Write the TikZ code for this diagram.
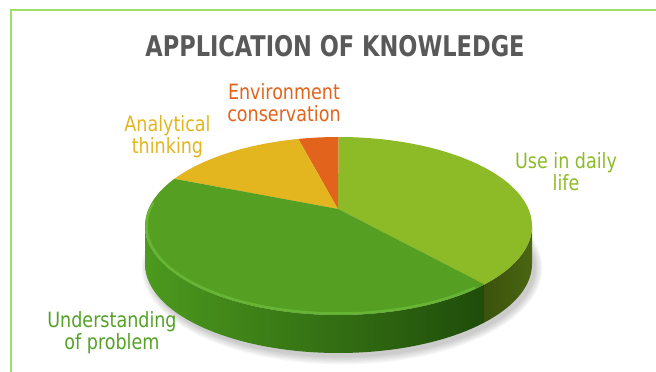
\documentclass[tikz,border=0pt]{standalone}
\usepackage{fontspec}
\setmainfont{DejaVu Sans Condensed}
\usetikzlibrary{calc}
\definecolor{cLight}{HTML}{8DBB27}
\definecolor{cDark}{HTML}{559F22}
\definecolor{cYel}{HTML}{E3B51F}
\definecolor{cOra}{HTML}{E2631B}
\definecolor{cTitle}{HTML}{595959}
\definecolor{cFrame}{HTML}{9DDF6B}
\definecolor{cLabDark}{HTML}{55A127}
\definecolor{sideL}{HTML}{4C9A1E}
\definecolor{sideR}{HTML}{1F4C0A}
\definecolor{oliveL}{HTML}{4A6612}
\definecolor{oliveR}{HTML}{3B520C}
\definecolor{rimHi}{HTML}{7ED04A}
\begin{document}
\begin{tikzpicture}[x=1pt,y=1pt,
  lbl/.style={font=\fontsize{19.5}{20.5}\selectfont, align=center, inner sep=0pt, yscale=1.08, transform shape},
  ttl/.style={font=\bfseries\fontsize{25}{30}\selectfont, text=cTitle, inner sep=0pt, yscale=1.14, transform shape}]
\useasboundingbox (0,0) rectangle (656,372);
\draw[cFrame, line width=2pt] (656,361.5) -- (10.5,361.5) -- (10.5,0);
% shadow
\begin{scope}[shift={(342,104)}]
  \foreach \i in {1,...,7} \fill[black, opacity=0.03] (0,0) ellipse[x radius={192+\i*1.2}, y radius={88+\i*1.2}];
\end{scope}
\begin{scope}[shift={(338.5,146)}]
  % sides
  \shade[left color=sideL, right color=sideR]
    (180:193.5 and 89) arc[start angle=180, end angle=319, x radius=193.5, y radius=89]
    -- ++(0,-38) arc[start angle=319, end angle=180, x radius=193.5, y radius=89] -- cycle;
  \shade[left color=oliveR, right color=oliveL]
    (319:193.5 and 89) arc[start angle=319, end angle=360, x radius=193.5, y radius=89]
    -- ++(0,-38) arc[start angle=360, end angle=319, x radius=193.5, y radius=89] -- cycle;
  % top slices
  \coordinate (apex) at (-0.5,17);
  \fill[cLight] (apex) -- (-41:193.5 and 89) arc[start angle=-41, end angle=90, x radius=193.5, y radius=89] -- cycle;
  \fill[cOra] (apex) -- (90:193.5 and 89) arc[start angle=90, end angle=102, x radius=193.5, y radius=89] -- cycle;
  \fill[cYel] (apex) -- (102:193.5 and 89) arc[start angle=102, end angle=148, x radius=193.5, y radius=89] -- cycle;
  \fill[cDark] (apex) -- (148:193.5 and 89) arc[start angle=148, end angle=319, x radius=193.5, y radius=89] -- cycle;
  % rim highlight
  \draw[rimHi, line width=2.5pt, opacity=0.45, line cap=round] (165:192 and 87.5) arc[start angle=165, end angle=315, x radius=192, y radius=87.5];
\end{scope}
% labels
\node[ttl] (title) at (335,326) {APPLICATION OF KNOWLEDGE};
\node[lbl, text=cOra] (env) at (284,269) {Environment\\conservation};
\node[lbl, text=cYel] (ana) at (167.5,235) {Analytical\\thinking};
\node[lbl, text=cLight] (use) at (566,200) {Use in daily\\life};
\node[lbl, text=cLabDark] (und) at (112,39.3) {Understanding\\of problem};
\end{tikzpicture}
\end{document}
